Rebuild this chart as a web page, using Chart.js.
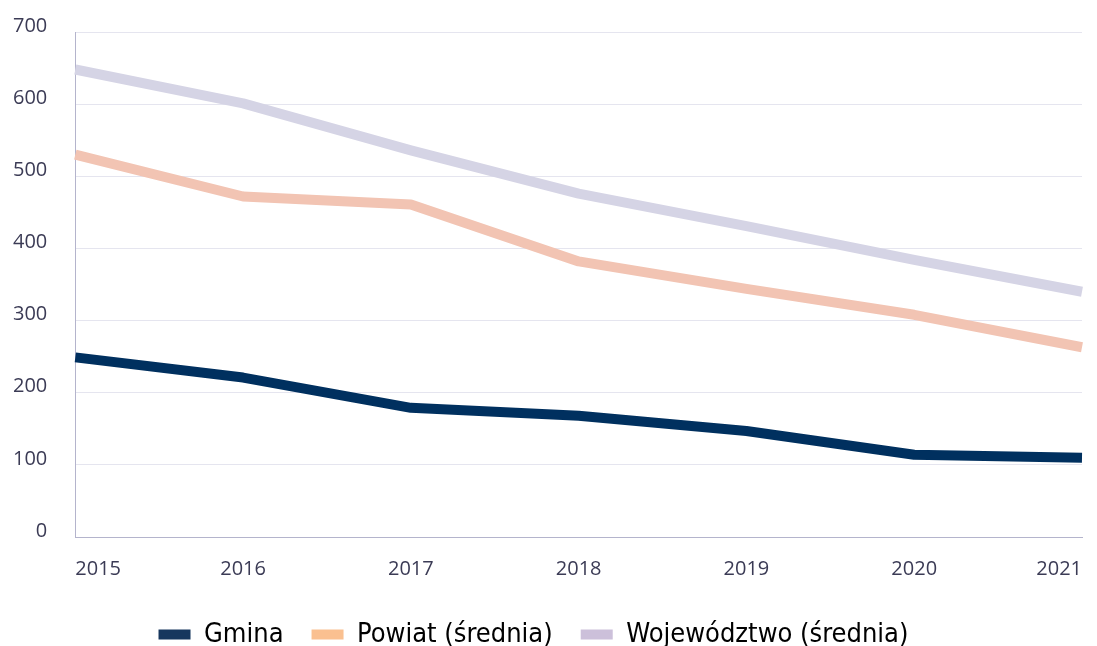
<!DOCTYPE html>
<html>
<head>
<meta charset="utf-8">
<script src="https://cdn.jsdelivr.net/npm/chart.js@4"></script>
<style>
  html, body { margin: 0; padding: 0; background: #fff; }
  #wrap { width: 1097px; height: 646px; }
</style>
</head>
<body>
<div id="wrap"><canvas id="myChart" width="1097" height="646"></canvas></div>
<script>
var years = ['2015', '2016', '2017', '2018', '2019', '2020', '2021']
var gmina = [249, 221, 179, 168, 147, 114, 110]
var powiat = [530, 472, 461, 382, 344, 308, 263]
var wojewodztwo = [648, 601, 536, 476, 431, 384, 340]

var lineColors = ['#00305f', '#f2c4b3', '#d5d4e5']
var legendColors = ['#17375e', '#fac090', '#ccc0da']

let ctx = document.getElementById('myChart').getContext('2d')
let myChart = new Chart(ctx, {
  type: 'line',
  data: {
    labels: years,
    datasets: [
      { label: 'Gmina', data: gmina, borderColor: lineColors[0] },
      { label: 'Powiat (średnia)', data: powiat, borderColor: lineColors[1] },
      { label: 'Województwo (średnia)', data: wojewodztwo, borderColor: lineColors[2] },
    ],
  },
  options: {
    responsive: false,
    animation: false,
    datasets: {
      line: {
        borderWidth: 10,
        pointRadius: 0,
        tension: 0,
        borderJoinStyle: 'round',
        fill: false,
      },
    },
    layout: { padding: { left: -15, right: 15, top: 32, bottom: -12 } },
    scales: {
      x: {
        grid: { display: false },
        border: { color: '#b4b4cc', width: 1 },
        ticks: {
          color: '#3b3b55',
          font: { family: 'Open Sans', size: 20 },
          padding: 12,
          align: 'inner',
        },
        afterFit: function (scale) {
          scale.paddingLeft = 0
          scale.paddingRight = 0
        },
      },
      y: {
        min: 0,
        max: 700,
        ticks: {
          stepSize: 100,
          color: '#3b3b55',
          font: { family: 'Open Sans', size: 20 },
          padding: 28,
          labelOffset: -6,
        },
        grid: { color: '#e5e5ef', drawTicks: false },
        border: { color: '#b4b4cc', width: 1 },
        afterFit: function (scale) {
          scale.paddingTop = 0
          scale.paddingBottom = 0
        },
      },
    },
    plugins: {
      legend: {
        position: 'bottom',
        labels: {
          font: { family: 'DejaVu Sans Condensed', size: 27 },
          color: '#111',
          boxWidth: 32,
          boxHeight: 10,
          padding: 28,
          generateLabels: function (chart) {
            return chart.data.datasets.map(function (ds, i) {
              return {
                text: ds.label,
                fillStyle: legendColors[i],
                strokeStyle: legendColors[i],
                lineWidth: 0,
                datasetIndex: i,
              }
            })
          },
        },
      },
      tooltip: { enabled: false },
    },
  },
})
</script>
</body>
</html>
